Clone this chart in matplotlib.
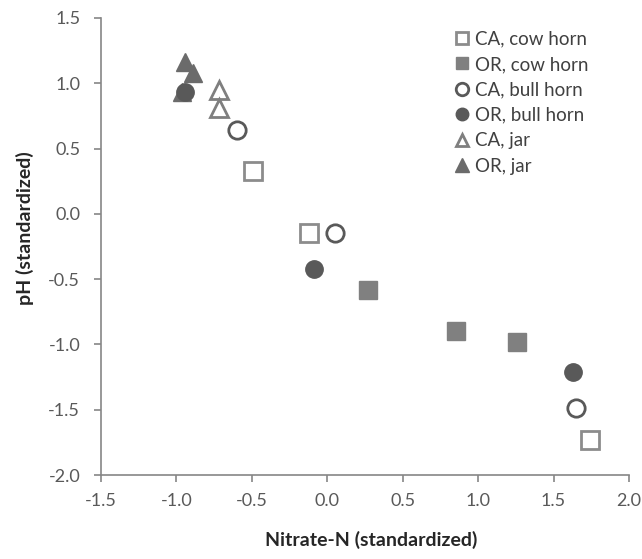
import matplotlib.pyplot as plt

plt.rcParams['font.family'] = ['Lato', 'DejaVu Sans']

# Values (x = Nitrate-N, y = pH, both standardized)
ca_cow_x = [-0.49, -0.12, 1.74]
ca_cow_y = [0.33, -0.15, -1.73]
or_cow_x = [0.27, 0.85, 1.26]
or_cow_y = [-0.58, -0.90, -0.98]
ca_bull_x = [-0.60, 0.05, 1.65]
ca_bull_y = [0.64, -0.15, -1.49]
or_bull_x = [-0.94, -0.09, 1.63]
or_bull_y = [0.93, -0.42, -1.21]
ca_jar_x = [-0.72, -0.72]
ca_jar_y = [0.95, 0.81]
or_jar_x = [-0.94, -0.89, -0.96]
or_jar_y = [1.16, 1.08, 0.93]

x_ticks = [-1.5, -1.0, -0.5, 0.0, 0.5, 1.0, 1.5, 2.0]
y_ticks = [-2.0, -1.5, -1.0, -0.5, 0.0, 0.5, 1.0, 1.5]

W, H = 642, 559
fig = plt.figure(figsize=(W / 100, H / 100), dpi=100)
ax = fig.add_axes([101 / W, 1 - 475 / H, 528 / W, 457 / H])

ms = 12.5
ax.plot(ca_cow_x, ca_cow_y, 's', ms=ms, mfc='white', mec='#8c8c8c', mew=2, ls='none', label='CA, cow horn')
ax.plot(or_cow_x, or_cow_y, 's', ms=ms, mfc='#808080', mec='#808080', ls='none', label='OR, cow horn')
ax.plot(ca_bull_x, ca_bull_y, 'o', ms=ms, mfc='white', mec='#595959', mew=2, ls='none', label='CA, bull horn')
ax.plot(ca_jar_x, ca_jar_y, '^', ms=ms, mfc='white', mec='#7f7f7f', mew=2, ls='none', label='CA, jar')
ax.plot(or_jar_x, or_jar_y, '^', ms=ms + 1, mfc='#6b6b6b', mec='#6b6b6b', ls='none', label='OR, jar')
ax.plot(or_bull_x, or_bull_y, 'o', ms=ms, mfc='#595959', mec='#595959', ls='none', label='OR, bull horn')

ax.set_xlim(-1.5, 2.0)
ax.set_ylim(-2.0, 1.5)
ax.set_xticks(x_ticks)
ax.set_yticks(y_ticks)
ax.set_xticklabels([f'{v:.1f}' for v in x_ticks])
ax.set_yticklabels([f'{v:.1f}' for v in y_ticks])

for s in ['top', 'right']:
    ax.spines[s].set_visible(False)
for s in ['left', 'bottom']:
    ax.spines[s].set_color('#868686')
    ax.spines[s].set_linewidth(1.2)
ax.tick_params(direction='out', length=5, width=1.2, color='#868686',
               labelsize=13, labelcolor='#595959')
ax.tick_params(axis='x', pad=8)
ax.tick_params(axis='y', pad=10)

ax.set_xlabel('Nitrate-N (standardized)', fontsize=14, fontweight='bold', color='#262626', va='top')
ax.set_ylabel('pH (standardized)', fontsize=14, fontweight='bold', color='#262626')
ax.xaxis.set_label_coords(0.5 + 6 / 528, (475 - 531) / 457)
ax.yaxis.set_label_coords((34 - 101) / 528, (475 - 228) / 457)

handles, labels = ax.get_legend_handles_labels()
order = ['CA, cow horn', 'OR, cow horn', 'CA, bull horn', 'OR, bull horn', 'CA, jar', 'OR, jar']
hmap = dict(zip(labels, handles))
leg = fig.legend([hmap[k] for k in order], order, loc='upper left', frameon=False,
                 fontsize=13.5, handlelength=0.8, handletextpad=0.3, labelspacing=0.45,
                 markerscale=0.72, borderaxespad=0.0,
                 bbox_to_anchor=(447 / W, 1 - 23 / H))
for t in leg.get_texts():
    t.set_color('#404040')

fig.savefig('out.png', dpi=100)
